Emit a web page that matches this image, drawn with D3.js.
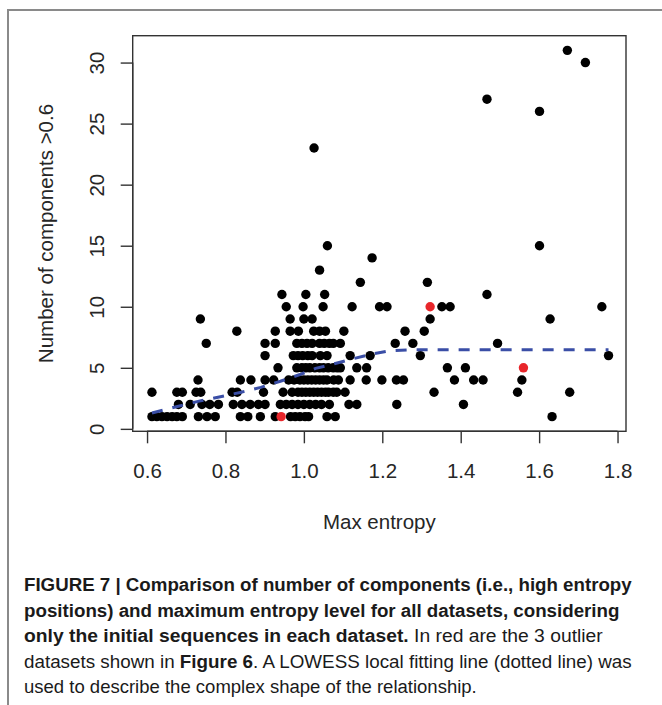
<!DOCTYPE html>
<html>
<head>
<meta charset="utf-8">
<script src="https://cdn.jsdelivr.net/npm/d3@7"></script>
<style>
  html, body { margin: 0; padding: 0; background: #fff; }
  svg { display: block; }
</style>
</head>
<body>
<svg id="chart" width="662" height="705"></svg>
<script>
// ---------------- DATA ----------------
// black points: [max entropy, number of components > 0.6]
const blackPoints = [
  // 1 component
  [0.6125,1],[0.625,1],[0.638,1],[0.651,1],[0.664,1],[0.676,1],[0.69,1],[0.731,1],[0.753,1],[0.774,1],
  [0.838,1],[0.857,1],[0.889,1],[0.927,1],[0.966,1],[0.978,1],[0.99,1],[1.003,1],[1.012,1],[1.059,1],[1.08,1],[1.633,1],
  // 2
  [0.68,2],[0.71,2],[0.74,2],[0.76,2],[0.782,2],[0.82,2],[0.842,2],[0.863,2],[0.884,2],[0.901,2],[0.94,2],[0.955,2],
  [0.97,2],[0.985,2],[1.0,2],[1.015,2],[1.03,2],[1.045,2],[1.065,2],[1.115,2],[1.135,2],[1.237,2],[1.407,2],
  // 3
  [0.6125,3],[0.676,3],[0.69,3],[0.725,3],[0.737,3],[0.817,3],[0.83,3],[0.897,3],[0.947,3],[0.97,3],[0.985,3],[0.995,3],
  [1.005,3],[1.015,3],[1.025,3],[1.035,3],[1.045,3],[1.055,3],[1.063,3],[1.075,3],[1.084,3],[1.105,3],[1.332,3],[1.545,3],[1.678,3],
  // 4
  [0.73,4],[0.838,4],[0.865,4],[0.901,4],[0.923,4],[0.961,4],[0.975,4],[0.99,4],[1.0,4],[1.01,4],[1.02,4],[1.03,4],[1.04,4],
  [1.05,4],[1.059,4],[1.076,4],[1.088,4],[1.118,4],[1.159,4],[1.199,4],[1.236,4],[1.254,4],[1.384,4],[1.433,4],[1.457,4],[1.556,4],
  // 5
  [0.934,5],[0.982,5],[0.995,5],[1.005,5],[1.015,5],[1.028,5],[1.04,5],[1.05,5],[1.062,5],[1.075,5],[1.085,5],[1.093,5],
  [1.135,5],[1.16,5],[1.366,5],[1.412,5],
  // 6
  [0.901,6],[0.973,6],[0.985,6],[0.997,6],[1.01,6],[1.021,6],[1.042,6],[1.059,6],[1.118,6],[1.169,6],[1.297,6],[1.777,6],
  // 7
  [0.751,7],[0.901,7],[0.927,7],[0.982,7],[0.995,7],[1.008,7],[1.021,7],[1.04,7],[1.052,7],[1.065,7],[1.075,7],[1.093,7],
  [1.233,7],[1.278,7],[1.494,7],
  // 8
  [0.829,8],[0.927,8],[0.965,8],[0.986,8],[1.025,8],[1.04,8],[1.055,8],[1.102,8],[1.258,8],[1.307,8],
  // 9
  [0.736,9],[0.965,9],[1.0,9],[1.021,9],[1.322,9],[1.628,9],
  // 10
  [0.955,10],[0.998,10],[1.049,10],[1.123,10],[1.193,10],[1.212,10],[1.352,10],[1.373,10],[1.76,10],
  // 11+
  [0.944,11],[1.005,11],[1.053,11],[1.467,11],
  [1.144,12],[1.315,12],
  [1.04,13],
  [1.174,14],
  [1.06,15],[1.601,15],
  [1.026,23],
  [1.601,26],
  [1.467,27],
  [1.718,30],
  [1.672,31]
];
// red outlier datasets
const redPoints = [[0.942,1],[1.322,10],[1.56,5]];

// LOWESS fitted line
const lowessX = [0.6125,0.68,0.73,0.79,0.84,0.89,0.94,0.99,1.03,1.08,1.12,1.17,1.22,1.28,1.40,1.55,1.777];
const lowessY = [1.3,1.85,2.25,2.65,3.0,3.4,3.9,4.45,4.95,5.35,5.7,6.1,6.4,6.47,6.47,6.47,6.47];

const xTicks = [0.6,0.8,1.0,1.2,1.4,1.6,1.8];
const yTicks = [0,5,10,15,20,25,30];

const xTitle = "Max entropy";
const yTitle = "Number of components >0.6";

const captionLines = [
  [["FIGURE 7 | Comparison of number of components (i.e., high entropy", true]],
  [["positions) and maximum entropy level for all datasets, considering", true]],
  [["only the initial sequences in each dataset.", true], [" In red are the 3 outlier", false]],
  [["datasets shown in ", false], ["Figure 6", true], [". A LOWESS local fitting line (dotted line) was", false]],
  [["used to describe the complex shape of the relationship.", false]]
];
const captionRightEdges = [632, 620, 603, 632, 477];

// ---------------- DRAW ----------------
const svg = d3.select("#chart");
const box = {left: 132.7, right: 626, top: 35.7, bottom: 431.3};

const x = d3.scaleLinear().domain([0.5634, 1.8216]).range([box.left, box.right]);
const y = d3.scaleLinear().domain([-0.2, 32.2]).range([box.bottom, box.top]);

const axisFont = "'Liberation Sans', Arial, Helvetica, sans-serif";
const textColor = "#262626";
const lineColor = "#333";

// outer figure frame (left + top)
svg.append("path")
  .attr("d", "M8,705 L8,10 L662,10")
  .attr("fill", "none")
  .attr("stroke", "#8a8a8a")
  .attr("stroke-width", 2);

// plot box
svg.append("rect")
  .attr("x", box.left).attr("y", box.top)
  .attr("width", box.right - box.left).attr("height", box.bottom - box.top)
  .attr("fill", "none").attr("stroke", lineColor).attr("stroke-width", 1.4);

// x axis
const gx = svg.append("g")
  .attr("transform", `translate(0,${box.bottom})`)
  .call(d3.axisBottom(x).tickValues(xTicks).tickSize(12).tickPadding(20).tickFormat(d3.format(".1f")));
gx.select(".domain").remove();
gx.selectAll(".tick line").attr("stroke", lineColor).attr("stroke-width", 1.4);
gx.selectAll(".tick text")
  .attr("font-family", axisFont).attr("font-size", 20.5).attr("fill", textColor);
gx.append("line")
  .attr("x1", x(xTicks[0])).attr("x2", x(xTicks[xTicks.length-1]))
  .attr("stroke", lineColor).attr("stroke-width", 1.4);

// y axis
const gy = svg.append("g")
  .attr("transform", `translate(${box.left},0)`)
  .call(d3.axisLeft(y).tickValues(yTicks).tickSize(12));
gy.select(".domain").remove();
gy.selectAll(".tick line").attr("stroke", lineColor).attr("stroke-width", 1.4);
gy.selectAll(".tick text")
  .attr("x", null).attr("dy", "0.35em")
  .attr("transform", "translate(-36.3,0) rotate(-90)")
  .attr("text-anchor", "middle")
  .attr("font-family", axisFont).attr("font-size", 20.5).attr("fill", textColor);
gy.append("line")
  .attr("y1", y(yTicks[0])).attr("y2", y(yTicks[yTicks.length-1]))
  .attr("stroke", lineColor).attr("stroke-width", 1.4);

// axis titles
svg.append("text")
  .attr("x", (box.left + box.right) / 2).attr("y", 529)
  .attr("text-anchor", "middle")
  .attr("font-family", axisFont).attr("font-size", 20.5).attr("fill", textColor)
  .text(xTitle);
svg.append("text")
  .attr("transform", `translate(46,${(box.top + box.bottom) / 2}) rotate(-90)`)
  .attr("dy", "0.35em")
  .attr("text-anchor", "middle")
  .attr("font-family", axisFont).attr("font-size", 20.5).attr("fill", textColor)
  .text(yTitle);

// points
const r = 4.7;
svg.append("g").selectAll("circle")
  .data(blackPoints).join("circle")
  .attr("cx", d => x(d[0])).attr("cy", d => y(d[1])).attr("r", r)
  .attr("fill", "#000");
svg.append("g").selectAll("circle")
  .data(redPoints).join("circle")
  .attr("cx", d => x(d[0])).attr("cy", d => y(d[1])).attr("r", r)
  .attr("fill", "#e8262b");

// LOWESS dashed line
const lowess = lowessX.map((v, i) => [v, lowessY[i]]);
svg.append("path")
  .datum(lowess)
  .attr("d", d3.line().x(d => x(d[0])).y(d => y(d[1])))
  .attr("fill", "none")
  .attr("stroke", "#3a4ea6")
  .attr("stroke-width", 3)
  .attr("stroke-dasharray", "11,10");

// caption
const capFont = "'Liberation Sans Narrow', 'Arial Narrow', 'Liberation Sans', Arial, sans-serif";
const capLeft = 24;
const baselines = [591.5, 617, 642.5, 668, 693.5];
captionLines.forEach((segs, i) => {
  const t = svg.append("text")
    .attr("x", capLeft).attr("y", baselines[i])
    .attr("font-family", capFont).attr("font-size", 18.5).attr("fill", "#1a1a1a")
    .attr("xml:space", "preserve")
    .style("white-space", "pre");
  segs.forEach(([s, bold]) => {
    t.append("tspan").attr("font-weight", bold ? "bold" : "normal").text(s);
  });
  const w = t.node().getComputedTextLength();
  const target = captionRightEdges[i] - capLeft;
  const k = target / w;
  t.attr("transform", `translate(${capLeft},0) scale(${k},1) translate(${-capLeft},0)`);
});
</script>
</body>
</html>
